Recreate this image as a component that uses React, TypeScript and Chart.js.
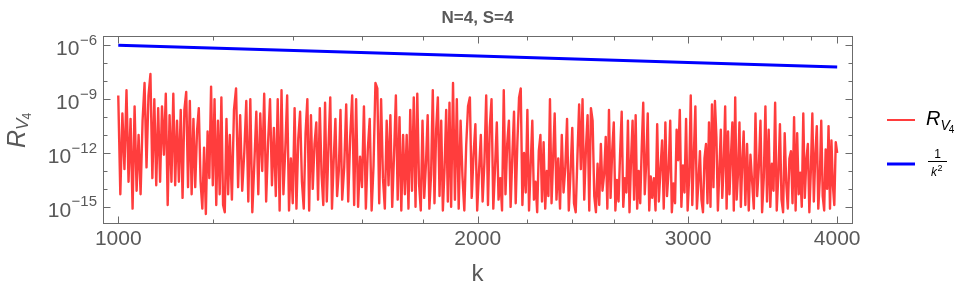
import React, { useEffect, useRef } from "react";
import { Chart, registerables } from "chart.js";

Chart.register(...registerables);

const chartTitle = "N=4, S=4";
const xAxisTitle = "k";
const xMajorTicks = [1000, 2000, 3000, 4000];
const xMinorTicks = [1200, 1400, 1600, 1800, 2200, 2400, 2600, 2800, 3200, 3400, 3600, 3800];
const yMajorExponents = [-6, -9, -12, -15];
const yMinorExponents = [-7, -8, -10, -11, -13, -14];

// sampling of k for R_{V4}: [start, step, count]
const redKSegments = [
  [1000, 4, 60],
  [1240, 5, 60],
  [1540, 6, 60],
  [1900, 7, 60],
  [2320, 8, 60],
  [2800, 9, 60],
  [3340, 11, 61],
];

// log10 of R_{V4}
const redLog10 = [
  -8.8, -14.3, -9.8, -12.9, -8.5, -13.6, -10.1, -15.1, -9.4, -14.1,
  -11.0, -14.3, -10.2, -8.1, -12.8, -8.8, -7.6, -13.4, -9.0, -13.8,
  -9.5, -13.6, -9.4, -12.1, -8.7, -14.9, -9.9, -13.6, -8.7, -13.8,
  -10.2, -13.6, -9.6, -14.5, -9.6, -8.6, -13.9, -9.1, -14.3, -10.1,
  -13.9, -10.8, -9.5, -13.6, -15.1, -11.7, -15.4, -10.8, -13.4, -8.3,
  -13.8, -9.0, -14.9, -10.2, -14.3, -8.9, -14.9, -15.3, -10.1, -14.3,
  -11.0,
  -14.6, -9.6, -8.4, -13.9, -9.9, -14.1, -12.0, -9.1, -14.7, -9.0,
  -15.3, -12.6, -9.7, -14.3, -9.8, -13.0, -8.7, -14.7, -11.4, -9.0,
  -13.8, -10.6, -14.4, -9.0, -15.2, -8.5, -14.3, -11.8, -8.8, -15.2,
  -12.3, -14.8, -9.5, -15.1, -11.2, -9.7, -13.6, -15.1, -10.9, -9.0,
  -15.2, -9.9, -14.0, -11.5, -10.3, -14.6, -9.5, -13.2, -14.9, -9.2,
  -14.7, -11.6, -8.9, -15.1, -12.4, -10.1, -14.4, -13.0, -9.6, -14.6,
  -12.8, -9.3, -14.7, -11.1, -8.8, -14.9, -9.0, -15.0, -12.2, -13.9,
  -9.4, -15.1, -11.8, -10.1, -15.2, -12.7, -8.1, -8.4, -14.8, -9.0,
  -13.4, -15.1, -10.2, -13.8, -9.9, -15.0, -12.1, -8.8, -14.6, -10.0,
  -15.2, -11.0, -14.3, -11.0, -15.1, -9.6, -14.1, -8.9, -15.0, -8.7,
  -13.7, -15.2, -10.2, -14.5, -12.6, -9.9, -15.1, -13.2, -8.5, -14.8,
  -10.7, -8.9, -14.4, -10.2, -15.2, -12.9, -9.6, -14.7, -9.2, -15.0,
  -8.1, -14.6, -9.0, -15.1, -10.2, -13.3, -15.2, -11.6, -9.4, -8.9,
  -14.5, -12.1, -10.4, -15.2, -13.0, -11.0, -14.7, -12.5, -8.8, -14.9,
  -10.6, -9.0, -15.1, -12.8, -10.3, -14.6, -13.4, -15.2, -8.5, -14.3,
  -11.5, -10.2, -15.0, -12.2, -9.7, -14.8, -11.4, -8.9, -8.4, -14.9,
  -12.0, -14.2, -9.6, -15.2, -12.7, -10.2, -14.6, -13.6, -15.3, -11.9,
  -11.0, -14.7, -11.4, -15.1, -13.0, -14.4, -9.0, -14.8, -12.3, -9.8,
  -14.6, -12.3, -15.1, -11.0, -14.2, -12.8, -10.1, -15.2, -13.1, -10.6,
  -14.8, -15.3, -12.2, -9.3, -12.9, -9.0, -14.6, -11.8, -9.9, -15.2,
  -9.5, -10.2, -14.4, -15.3, -12.6, -14.9, -11.5, -14.1, -13.2, -11.1,
  -15.1, -9.6, -14.5, -11.9, -10.3, -15.2, -13.5, -14.7, -12.0, -9.7,
  -15.0, -13.4, -14.2, -10.2, -15.3, -12.4, -10.2, -14.6, -9.9, -15.1,
  -13.0, -14.8, -11.7, -9.2, -14.3, -12.5, -9.8, -15.2, -13.3, -14.5,
  -13.4, -15.2, -10.4, -14.7, -12.9, -11.3, -15.1, -10.3, -14.4, -13.0,
  -10.2, -15.3, -13.7, -14.8, -10.7, -12.4, -9.6, -15.0, -12.7, -14.2,
  -10.1, -15.2, -13.3, -8.8, -14.9, -12.1, -9.4, -15.1, -13.6, -11.9,
  -14.6, -15.3, -12.3, -11.5, -14.8, -10.3, -15.0, -9.3, -13.9, -9.1,
  -11.1, -15.2, -13.0, -10.7, -14.5, -12.6, -9.4, -15.1, -10.8, -14.3,
  -12.2, -10.3, -15.2, -8.9, -14.6, -13.1, -10.3, -15.0, -12.5, -10.8,
  -14.9, -11.5, -15.2, -12.1, -13.6, -15.1, -9.8, -14.4, -12.8, -10.2,
  -15.3, -13.4, -9.4, -14.7, -10.7, -15.0, -12.6, -14.1, -9.2, -15.2,
  -13.2, -10.4, -14.6, -15.3, -10.9, -13.7, -15.1, -12.3, -11.9, -14.8,
  -10.0, -15.2, -10.9, -14.3, -13.1, -15.0, -9.8, -14.5, -12.4, -11.5,
  -15.3, -13.0, -9.8, -14.7, -12.1, -10.5, -15.1, -13.5, -10.2, -14.4,
  -15.2, -11.8, -14.0, -10.5, -15.1, -11.3, -13.8, -14.9, -11.4, -12.0,
];

const blueK = [1000, 2000, 3000, 4000];
const blueValues = [1e-6, 2.5e-7, 1.111e-7, 6.25e-8];

const FONT = '"Liberation Sans", Arial, sans-serif';
const TEXT = "#595959";
const FRAME = "#6b6b6b";
const RED = "rgba(255, 0, 0, 0.76)";
const BLUE = "#0000ff";

function buildRedK(): number[] {
  const ks: number[] = [];
  for (const [start, step, count] of redKSegments) {
    for (let j = 0; j < count; j++) ks.push(start + step * j);
  }
  return ks;
}

const decorPlugin = {
  id: "decor",
  afterDraw(chart: any) {
    const { ctx, chartArea: a, scales } = chart;
    const x = scales.x;
    const y = scales.y;
    ctx.save();

    const L = Math.round(a.left) + 0.5;
    const R = Math.round(a.right) + 0.5;
    const T = Math.round(a.top) + 0.5;
    const B = Math.round(a.bottom) + 0.5;

    // frame and inward ticks
    ctx.strokeStyle = FRAME;
    ctx.lineWidth = 1;
    ctx.strokeRect(L, T, R - L, B - T);
    ctx.beginPath();
    for (const v of [...xMajorTicks, ...xMinorTicks]) {
      const len = xMajorTicks.includes(v) ? 7 : 4;
      const px = Math.round(x.getPixelForValue(v)) + 0.5;
      ctx.moveTo(px, B);
      ctx.lineTo(px, B - len);
      ctx.moveTo(px, T);
      ctx.lineTo(px, T + len);
    }
    for (const e of [...yMajorExponents, ...yMinorExponents]) {
      const len = yMajorExponents.includes(e) ? 7 : 4;
      const py = Math.round(y.getPixelForValue(Math.pow(10, e))) + 0.5;
      ctx.moveTo(L, py);
      ctx.lineTo(L + len, py);
      ctx.moveTo(R, py);
      ctx.lineTo(R - len, py);
    }
    ctx.stroke();

    // y tick labels 10^e
    ctx.fillStyle = TEXT;
    ctx.textBaseline = "alphabetic";
    ctx.textAlign = "right";
    for (const e of yMajorExponents) {
      const py = y.getPixelForValue(Math.pow(10, e));
      const expText = "\u2212" + String(-e);
      const right = a.left - 6;
      ctx.font = `15px ${FONT}`;
      const wExp = ctx.measureText(expText).width;
      ctx.fillText(expText, right, py - 0.5);
      ctx.font = `21px ${FONT}`;
      ctx.fillText("10", right - wExp - 0.5, py + 10);
    }

    // title
    ctx.textAlign = "center";
    ctx.font = `bold 17px ${FONT}`;
    ctx.fillText(chartTitle, (a.left + a.right) / 2, 23);

    // x axis title
    ctx.font = `24px ${FONT}`;
    ctx.fillText(xAxisTitle, (a.left + a.right) / 2, 281);

    // y axis title R_{V_4}
    ctx.save();
    ctx.translate(25, 148);
    ctx.rotate(-Math.PI / 2);
    ctx.textAlign = "left";
    ctx.font = `italic 25px ${FONT}`;
    ctx.fillText("R", 0, 0);
    const wR = ctx.measureText("R").width;
    ctx.font = `italic 17px ${FONT}`;
    ctx.fillText("V", wR, 3);
    const wV = ctx.measureText("V").width;
    ctx.font = `12px ${FONT}`;
    ctx.fillText("4", wR + wV - 1, 6);
    ctx.restore();

    // legend
    ctx.lineCap = "butt";
    ctx.strokeStyle = RED;
    ctx.lineWidth = 2;
    ctx.beginPath();
    ctx.moveTo(887, 120);
    ctx.lineTo(915, 120);
    ctx.stroke();
    ctx.strokeStyle = BLUE;
    ctx.lineWidth = 3;
    ctx.beginPath();
    ctx.moveTo(887, 164);
    ctx.lineTo(915, 164);
    ctx.stroke();

    ctx.fillStyle = "#000";
    ctx.textAlign = "left";
    ctx.font = `italic 20px ${FONT}`;
    ctx.fillText("R", 926, 125);
    const lwR = ctx.measureText("R").width;
    ctx.font = `italic 14px ${FONT}`;
    ctx.fillText("V", 926 + lwR, 130);
    const lwV = ctx.measureText("V").width;
    ctx.font = `10px ${FONT}`;
    ctx.fillText("4", 926 + lwR + lwV - 1, 133);

    ctx.textAlign = "center";
    ctx.font = `12px ${FONT}`;
    ctx.fillText("1", 937.5, 158);
    ctx.strokeStyle = "#000";
    ctx.lineWidth = 1;
    ctx.beginPath();
    ctx.moveTo(928, 161.5);
    ctx.lineTo(947, 161.5);
    ctx.stroke();
    ctx.textAlign = "left";
    ctx.font = `italic 12px ${FONT}`;
    ctx.fillText("k", 931, 176);
    const wk = ctx.measureText("k").width;
    ctx.font = `9px ${FONT}`;
    ctx.fillText("2", 931 + wk + 0.5, 171);

    ctx.restore();
  },
};

export default function App() {
  const canvasRef = useRef<HTMLCanvasElement | null>(null);

  useEffect(() => {
    document.body.style.margin = "0";
    const canvas = canvasRef.current;
    if (!canvas) return;
    const redK = buildRedK();
    const chart = new Chart(canvas, {
      type: "line",
      data: {
        datasets: [
          {
            label: "R_V4",
            data: redK.map((k, i) => ({ x: k, y: Math.pow(10, redLog10[i]) })),
            borderColor: RED,
            borderWidth: 2.4,
            pointRadius: 0,
            tension: 0,
            borderJoinStyle: "round",
          },
          {
            label: "1/k^2",
            data: blueK.map((k, i) => ({ x: k, y: blueValues[i] })),
            borderColor: BLUE,
            borderWidth: 3,
            pointRadius: 0,
            tension: 0,
          },
        ],
      },
      options: {
        animation: false,
        responsive: false,
        devicePixelRatio: 1,
        layout: { padding: { top: 36, right: 115, left: 0, bottom: 0 } },
        plugins: {
          legend: { display: false },
          title: { display: false },
          tooltip: { enabled: false },
        },
        scales: {
          x: {
            type: "logarithmic",
            min: 971,
            max: 4116,
            afterBuildTicks: (s: any) => {
              s.ticks = xMajorTicks.map((v) => ({ value: v }));
            },
            afterFit: (s: any) => {
              s.height = 73;
              s.paddingLeft = 0;
              s.paddingRight = 0;
            },
            ticks: {
              autoSkip: false,
              maxRotation: 0,
              minRotation: 0,
              padding: 4,
              color: TEXT,
              font: { family: FONT, size: 21 },
              callback: (v: any) => String(v),
            },
            grid: { display: false, drawTicks: false },
            border: { display: false },
          },
          y: {
            type: "logarithmic",
            min: 1.26e-16,
            max: 3.3e-6,
            afterFit: (s: any) => {
              s.width = 103;
            },
            ticks: { display: false },
            grid: { display: false, drawTicks: false },
            border: { display: false },
          },
        },
      },
      plugins: [decorPlugin],
    } as any);
    return () => chart.destroy();
  }, []);

  return <canvas ref={canvasRef} width={967} height={296} style={{ display: "block" }} />;
}
